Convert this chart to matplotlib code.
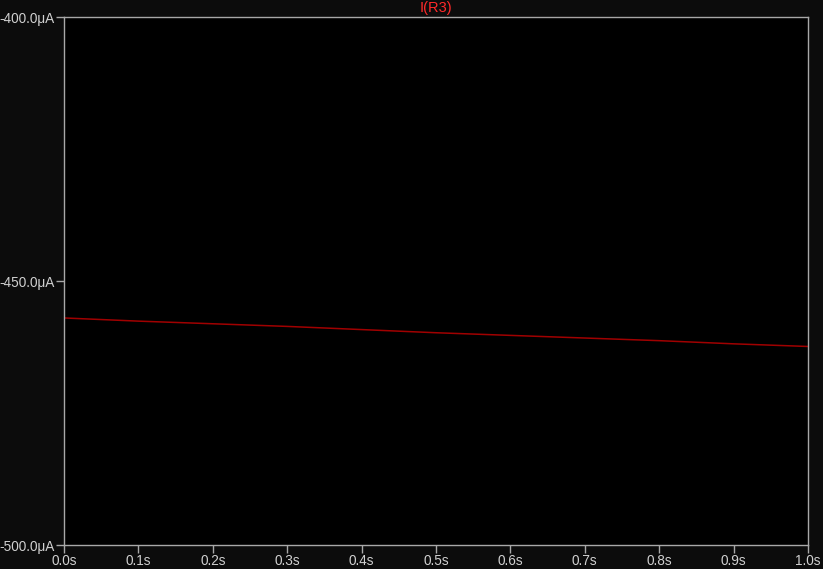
import matplotlib
matplotlib.use("Agg")
import matplotlib.pyplot as plt
import numpy as np

# time (s) and current through R3 (uA)
time_s = [0.0, 0.1, 0.2, 0.3, 0.4, 0.5, 0.6, 0.7, 0.8, 0.9, 1.0]
i_r3_ua = [-457.0, -457.6, -458.1, -458.6, -459.2, -459.8, -460.3, -460.8, -461.3, -461.9, -462.4]

x_ticks = [0.0, 0.1, 0.2, 0.3, 0.4, 0.5, 0.6, 0.7, 0.8, 0.9, 1.0]
x_labels = ["0.0s", "0.1s", "0.2s", "0.3s", "0.4s", "0.5s", "0.6s", "0.7s", "0.8s", "0.9s", "1.0s"]
y_ticks = [-500.0, -450.0, -400.0]
y_labels = ["-500.0μA", "-450.0μA", "-400.0μA"]

plt.rcParams["font.family"] = ["Liberation Sans", "DejaVu Sans"]
plt.rcParams["axes.unicode_minus"] = False
GREY = "#a8a8a8"

fig = plt.figure(figsize=(8.23, 5.69), dpi=100, facecolor="#0c0c0c")
ax = fig.add_axes([64 / 823, 24 / 569, 744 / 823, 528 / 569], facecolor="black")

ax.plot(time_s, i_r3_ua, color="#a00000", lw=1.1)

ax.set_xlim(0, 1.0)
ax.set_ylim(-500, -400)
ax.set_xticks(x_ticks)
ax.set_xticklabels(x_labels)
ax.set_yticks(y_ticks)
ax.set_yticklabels(y_labels)
ax.tick_params(colors=GREY, labelcolor="#d0d0d0", labelsize=9.8, length=6, width=1, pad=0.5)
for s in ax.spines.values():
    s.set_color(GREY)
    s.set_linewidth(1)

fig.text(436 / 823, 1 - 8 / 569, "I(R3)", color="#ff2a2a", fontsize=10.5,
         ha="center", va="center")

fig.savefig("out.png", dpi=100, facecolor=fig.get_facecolor())
